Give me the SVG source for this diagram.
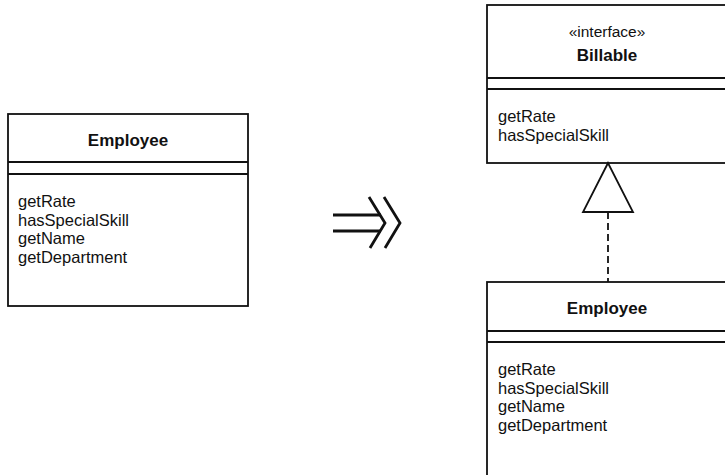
<svg xmlns="http://www.w3.org/2000/svg" width="725" height="475" viewBox="0 0 725 475">
<style>
.box{fill:#fff;stroke:#111;stroke-width:1.8}
.ln{stroke:#111;stroke-width:1.8;fill:none}
.t{font-family:"Liberation Sans",Arial,sans-serif;font-size:16.5px;fill:#111}
.b{font-family:"Liberation Sans",Arial,sans-serif;font-size:17px;font-weight:bold;fill:#111;text-anchor:middle}
.s{font-family:"Liberation Sans",Arial,sans-serif;font-size:15.5px;fill:#111;text-anchor:middle}
</style>
<rect width="725" height="475" fill="#fff"/>
<g id="employee-left">
<rect class="box" x="8" y="114" width="240" height="192"/>
<line class="ln" x1="8" y1="162" x2="248" y2="162"/>
<line class="ln" x1="8" y1="174" x2="248" y2="174"/>
<text class="b" x="128" y="146">Employee</text>
<text class="t" x="18" y="207">getRate</text>
<text class="t" x="18" y="225.7">hasSpecialSkill</text>
<text class="t" x="18" y="244.4">getName</text>
<text class="t" x="18" y="263">getDepartment</text>
</g>
<g id="transform-arrow">
<line x1="333" y1="215" x2="381" y2="215" stroke="#111" stroke-width="2.8"/>
<line x1="333" y1="231" x2="381" y2="231" stroke="#111" stroke-width="2.8"/>
<polyline points="369,197 385,223 370,248" fill="none" stroke="#111" stroke-width="2.8"/>
<polyline points="384,197 400,223 385,248" fill="none" stroke="#111" stroke-width="2.8"/>
</g>
<g id="billable">
<rect class="box" x="487" y="5" width="242" height="158"/>
<line class="ln" x1="487" y1="78" x2="729" y2="78"/>
<line class="ln" x1="487" y1="89" x2="729" y2="89"/>
<text class="s" x="607" y="37">«interface»</text>
<text class="b" x="607" y="61">Billable</text>
<text class="t" x="498" y="122">getRate</text>
<text class="t" x="498" y="141">hasSpecialSkill</text>
</g>
<g id="employee-right">
<rect class="box" x="487" y="282" width="242" height="200"/>
<line class="ln" x1="487" y1="331" x2="729" y2="331"/>
<line class="ln" x1="487" y1="342" x2="729" y2="342"/>
<text class="b" x="607" y="314">Employee</text>
<text class="t" x="498" y="375">getRate</text>
<text class="t" x="498" y="393.7">hasSpecialSkill</text>
<text class="t" x="498" y="412.4">getName</text>
<text class="t" x="498" y="431">getDepartment</text>
</g>
<g id="connectors">
<line x1="608" y1="212" x2="608" y2="282" stroke="#111" stroke-width="1.8" stroke-dasharray="7 4"/>
<polygon points="608,163 583,212 633,212" fill="#fff" stroke="#111" stroke-width="1.8" stroke-linejoin="miter"/>
</g>
</svg>
